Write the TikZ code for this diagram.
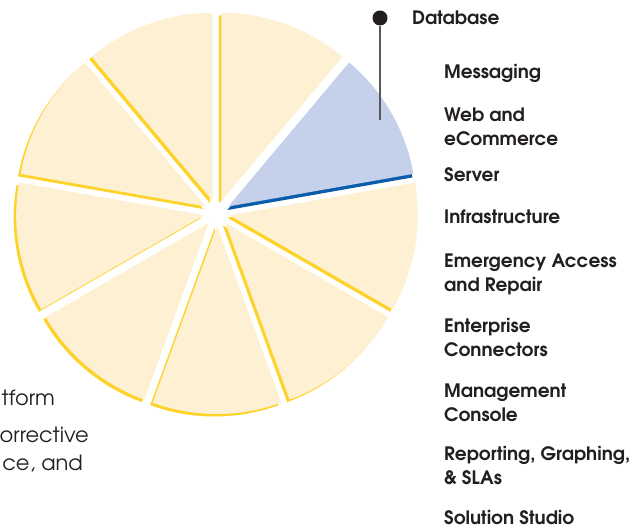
\documentclass[tikz,border=0pt]{standalone}
\usepackage{fontspec}
\setmainfont{TeX Gyre Adventor}
\definecolor{slicefill}{HTML}{FEF1D3}
\definecolor{sliceedge}{HTML}{FDD22B}
\definecolor{dbfill}{HTML}{C5D0EA}
\definecolor{dbedge}{HTML}{0A5DAA}
\definecolor{labelgray}{HTML}{231F20}
\definecolor{pingray}{HTML}{58595B}
\tikzset{
	slice shadow/.style={fill=sliceedge, shift={(-2.5,-2.5)}},
	slice body/.style={fill=slicefill},
	legend/.style={anchor=base west, inner sep=0pt, align=left, text=labelgray,
		font=\bfseries\fontsize{18.5}{24}\selectfont},
	bodytext/.style={anchor=base east, inner sep=0pt, text=labelgray,
		font=\fontsize{21}{24}\selectfont},
	pindot/.style={circle, fill=labelgray, inner sep=0pt, minimum size=15pt},
	pinline/.style={draw=pingray, line width=2pt}
}

\begin{document}
\begin{tikzpicture}[x=1pt,y=1pt]
	\useasboundingbox (0,0) rectangle (642,527);
	\begin{scope}[shift={(217,314)}]
		\foreach \a in {50,90,...,330}
			\fill[slice shadow] (\a+20:13) -- ++(\a:188) arc[start angle=\a, end angle=\a+40, radius=188] -- cycle;
		\fill[fill=dbedge, shift={(-1,-3.6)}] (30:13) -- ++(10:188) arc[start angle=10, end angle=50, radius=188] -- cycle;
		\foreach \a in {50,90,...,330}
			\fill[slice body] (\a+20:13) -- ++(\a:188) arc[start angle=\a, end angle=\a+40, radius=188] -- cycle;
		\fill[fill=dbfill] (30:13) -- ++(10:188) arc[start angle=10, end angle=50, radius=188] -- cycle;
	\end{scope}

	\node[pindot] (dbpin) at (380,509) {};
	\coordinate (dbtip) at (380,407);
	\draw[pinline] (dbpin) -- (dbtip);

	\node[legend] (database) at (412,502) {Database};
	\node[legend] (messaging) at (444,448) {Messaging};
	\node[legend] (web) at (444,381) {Web and\\eCommerce};
	\node[legend] (server) at (444,345) {Server};
	\node[legend] (infra) at (444,303) {Infrastructure};
	\node[legend] (emergency) at (444,235) {Emergency Access\\and Repair};
	\node[legend] (enterprise) at (444,170) {Enterprise\\Connectors};
	\node[legend] (console) at (444,105) {Management\\Console};
	\node[legend] (reporting) at (444,42) {Reporting, Graphing,\\\& SLAs};
	\node[legend] (studio) at (444,2) {Solution Studio};

	\node[bodytext] (line1) at (55,121) {tform};
	\node[bodytext] (line2) at (89,84) {orrective};
	\node[bodytext] (line3) at (83,56) {ce, and};
\end{tikzpicture}
\end{document}
